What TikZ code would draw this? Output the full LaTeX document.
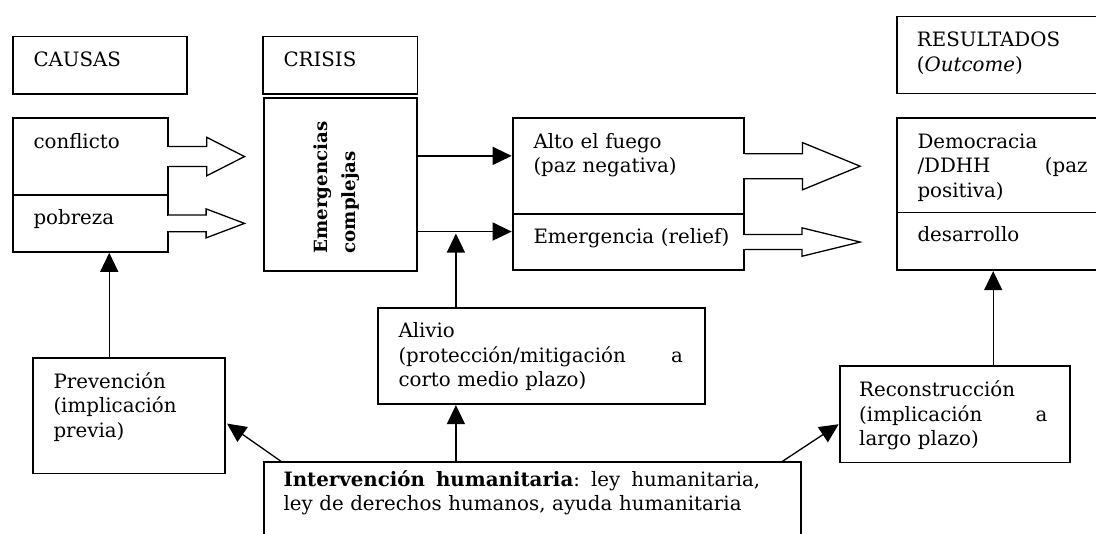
\documentclass[tikz,border=0pt]{standalone}
\usepackage{fontspec}
\setmainfont{DejaVu Serif}
\usetikzlibrary{arrows.meta}

\newcommand{\fsz}{\fontsize{19.8}{24.5}\selectfont}
% block arrow: #1 start, #2 shaft half, #3 head half, #4 shaft length, #5 tip distance
\newcommand{\hollowarrow}[5]{%
  \fill[white] ([shift={(-1.3,-#2+0.8)}]#1) rectangle ([shift={(1.3,#2-0.8)}]#1);
  \draw[blockarrow] ([shift={(0,-#2)}]#1) -- ++(#4,0) -- ++(0,#2-#3) -- ([shift={(#5,0)}]#1)
    -- ([shift={(#4,#3)}]#1) -- ++(0,#2-#3) -- ([shift={(0,#2)}]#1);
}

\tikzset{
  box/.style={draw, line width=1.8pt, inner sep=0pt, anchor=north west},
  lbl/.style={inner sep=0pt, anchor=base west, align=left, font=\fsz},
  conn/.style={line width=1.3pt, -{Triangle[length=19pt,width=18pt]}},
  blockarrow/.style={draw, fill=white, line width=1.3pt, line join=miter},
}

\begin{document}
\begin{tikzpicture}[x=1pt,y=-1pt]
\useasboundingbox (0,0) rectangle (1096,534);
\clip (0,0) rectangle (1096,534);

%Shape: Boxes
\node[box, minimum width=173.4pt, minimum height=57.6pt] (causas) at (12.3,35.7) {};
\node[box, minimum width=154.2pt, minimum height=57.3pt] (crisis) at (262.3,35.7) {};
\node[box, minimum width=214pt, minimum height=77pt] (resultados) at (895.7,15.7) {};
\node[box, minimum width=154.4pt, minimum height=76.7pt] (conflicto) at (12.3,117.3) {};
\node[box, minimum width=154.4pt, minimum height=57pt] (pobreza) at (12.3,194) {};
\node[box, minimum width=153.3pt, minimum height=172.7pt] (emerg) at (262.7,97.3) {};
\node[box, minimum width=231pt, minimum height=96pt] (alto) at (511.7,117.3) {};
\node[box, minimum width=231pt, minimum height=55.7pt] (relief) at (511.7,213.3) {};
\node[box, minimum width=213pt, minimum height=94.4pt] (democracia) at (895.7,117.3) {};
\node[box, minimum width=213pt, minimum height=57.6pt] (desarrollo) at (895.7,211.7) {};
\node[box, minimum width=192.3pt, minimum height=115.4pt] (prevencion) at (31.7,357.3) {};
\node[box, minimum width=327pt, minimum height=96pt] (alivio) at (377.3,307.3) {};
\node[box, minimum width=230.6pt, minimum height=96.7pt] (reconstruccion) at (838.7,365) {};
\node[box, minimum width=537.3pt, minimum height=100pt] (intervencion) at (262.7,461.3) {};

% Text Node
\node[lbl, text width=150pt] (causas-t) at ([shift={(21,30.5)}]causas.north west) {CAUSAS};
\node[lbl, text width=130pt] (crisis-t) at ([shift={(21,30.5)}]crisis.north west) {CRISIS};
\node[lbl, text width=180pt] (resultados-t) at ([shift={(21,31)}]resultados.north west) {RESULTADOS\\(\textit{Outcome})};
\node[lbl, text width=130pt] (conflicto-t) at ([shift={(21,31)}]conflicto.north west) {conflicto};
\node[lbl, text width=130pt] (pobreza-t) at ([shift={(21,30.5)}]pobreza.north west) {pobreza};
\node[font=\fontsize{18.2}{28}\selectfont\bfseries, rotate=90, anchor=north west, align=left, inner sep=0pt] (emerg-t) at (313,253.5) {Emergencias\\complejas};
\node[lbl, text width=200pt] (alto-t) at ([shift={(21.6,31)}]alto.north west) {Alto el fuego\\(paz negativa)};
\node[lbl, text width=200pt] (relief-t) at ([shift={(21.6,30)}]relief.north west) {Emergencia (relief)};
\node[lbl, text width=170pt] (democracia-t) at ([shift={(21.6,31)}]democracia.north west) {Democracia\\/DDHH \hfill (paz\\positiva)};
\node[lbl, text width=170pt] (desarrollo-t) at ([shift={(21.6,30)}]desarrollo.north west) {desarrollo};
\node[lbl, text width=170pt] (prevencion-t) at ([shift={(21.6,31)}]prevencion.north west) {Prevención\\(implicación\\previa)};
\node[lbl, text width=284.4pt] (alivio-t) at ([shift={(21,30.4)}]alivio.north west) {Alivio\\(protección/mitigación \hfill a\\corto medio plazo)};
\node[lbl, text width=188.3pt] (reconstruccion-t) at ([shift={(20.3,31.7)}]reconstruccion.north west) {Reconstrucción\\(implicación \hfill a\\largo plazo)};
\node[lbl, text width=476.7pt] (intervencion-t) at ([shift={(20.6,25)}]intervencion.north west) {\textbf{Intervención}\hfill\textbf{humanitaria}:\hfill ley\hfill humanitaria,\\ley de derechos humanos, ayuda humanitaria};

%Shape: Block arrows
\hollowarrow{conflicto.east}{10}{19.2}{38.3}{76}
\hollowarrow{pobreza.east}{8.3}{14.5}{37.6}{76}
\hollowarrow{alto.east}{12.5}{23.6}{58}{115.6}
\hollowarrow{relief.east}{7.5}{14.2}{57.5}{115.6}

%Straight Lines
\coordinate (altoIn) at ([shift={(0,-10.3)}]alto.west);
\coordinate (reliefIn) at ([shift={(0,-10.5)}]relief.west);
\coordinate (alivioX) at ([shift={(-85.8,0)}]alivio.north);
\coordinate (prevX) at ([shift={(-19.5,0)}]prevencion.north);
\coordinate (recX) at ([shift={(38.3,0)}]reconstruccion.north);
\draw[conn] (emerg.east |- altoIn) -- (altoIn);
\draw[conn] (emerg.east |- reliefIn) -- (reliefIn);
\draw[conn, shorten >=2pt] (alivioX) -- (alivioX |- reliefIn);
\draw[conn] (intervencion.north -| alivioX) -- (alivio.south -| alivioX);
\draw[conn] (prevX) -- (prevX |- pobreza.south);
\draw[conn] (recX) -- (recX |- desarrollo.south);
\draw[conn] ([shift={(18.3,0)}]intervencion.north west) -- ([shift={(1.3,7.7)}]prevencion.east);
\draw[conn] ([shift={(-19.3,0)}]intervencion.north east) -- ([shift={(0,10)}]reconstruccion.west);

\end{tikzpicture}
\end{document}
